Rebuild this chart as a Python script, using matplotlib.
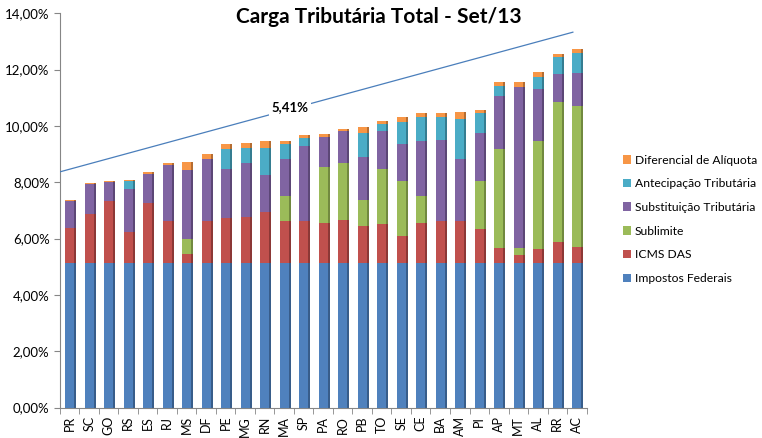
import numpy as np
import matplotlib.pyplot as plt
from matplotlib.ticker import FuncFormatter, FixedLocator

plt.rcParams['font.family'] = ['Lato', 'DejaVu Sans']

# dados (% da receita)
estados = ['PR', 'SC', 'GO', 'RS', 'ES', 'RJ', 'MS', 'DF', 'PE', 'MG', 'RN', 'MA', 'SP', 'PA',
           'RO', 'PB', 'TO', 'SE', 'CE', 'BA', 'AM', 'PI', 'AP', 'MT', 'AL', 'RR', 'AC']

impostos_federais = [5.15] * 27
icms_das = [1.22, 1.73, 2.20, 1.08, 2.11, 1.49, 0.31, 1.49, 1.57, 1.63, 1.78, 1.46, 1.49, 1.42,
            1.52, 1.28, 1.37, 0.95, 1.40, 1.49, 1.46, 1.20, 0.51, 0.28, 0.47, 0.73, 0.55]
sublimite = [0, 0, 0, 0, 0, 0, 0.54, 0, 0, 0, 0, 0.89, 0, 1.97,
             2.01, 0.95, 1.96, 1.94, 0.97, 0, 0, 1.71, 3.52, 0.23, 3.86, 4.96, 5.02]
substituicao = [0.95, 1.06, 0.65, 1.53, 1.04, 1.98, 2.44, 2.18, 1.74, 1.90, 1.33, 1.33, 2.63, 1.08,
                1.13, 1.51, 1.34, 1.33, 1.95, 2.86, 2.21, 1.68, 1.88, 5.74, 1.82, 1.00, 1.16]
antecipacao = [0, 0, 0, 0.27, 0, 0, 0, 0, 0.72, 0.53, 0.95, 0.53, 0.29, 0,
               0, 0.85, 0.26, 0.76, 0.84, 0.81, 1.42, 0.71, 0.36, 0, 0.45, 0.61, 0.72]
diferencial = [0.06, 0.05, 0.05, 0.05, 0.07, 0.06, 0.28, 0.20, 0.17, 0.17, 0.24, 0.12, 0.12, 0.08,
               0.09, 0.21, 0.10, 0.20, 0.14, 0.16, 0.24, 0.10, 0.13, 0.17, 0.15, 0.10, 0.15]

series = [
    ('Impostos Federais', impostos_federais, '#4F81BD', '#385D8A'),
    ('ICMS DAS', icms_das, '#C0504D', '#8C3836'),
    ('Sublimite', sublimite, '#9BBB59', '#71893F'),
    ('Substituição Tributária', substituicao, '#8064A2', '#5C4776'),
    ('Antecipação Tributária', antecipacao, '#4BACC6', '#357D91'),
    ('Diferencial de Alíquota', diferencial, '#F79646', '#B66D31'),
]

# linha de tendência
trend_x = [-0.5, 25.8]
trend_y = [8.37, 13.33]
trend_label = '5,41%'

fig = plt.figure(figsize=(7.62, 4.38), dpi=100)
ax = fig.add_axes([0.0787, 0.0696, 0.6910, 0.9000])

x = np.arange(len(estados))
w = 0.45
bottom = np.zeros(len(estados))
handles = []
for nome, vals, cor, sombra in series:
    vals = np.array(vals)
    ax.bar(x + 0.12, vals, w, bottom=bottom, color=sombra, linewidth=0, zorder=2)
    b = ax.bar(x, vals, w, bottom=bottom, color=cor, linewidth=0, zorder=3, label=nome)
    handles.append(b)
    bottom += vals

ax.plot(trend_x, trend_y, color='#4A7EBB', lw=0.9, zorder=4)
ax.text(11.3, 10.66, trend_label, ha='center', va='center', fontsize=9.5, fontweight='bold',
        bbox=dict(facecolor='white', edgecolor='none', pad=2), zorder=5)

ax.set_xlim(-0.5, len(estados) - 0.5)
ax.set_ylim(0, 14)
ax.set_yticks(np.arange(0, 15, 2))
ax.yaxis.set_major_formatter(FuncFormatter(lambda v, p: f'{v:.2f}%'.replace('.', ',')))
ax.set_xticks(x)
ax.set_xticklabels(estados, rotation=90, fontsize=9)
ax.xaxis.set_minor_locator(FixedLocator(np.arange(-0.5, len(estados), 1)))
ax.tick_params(axis='x', which='major', length=0, pad=6)
ax.tick_params(axis='x', which='minor', length=4, color='#868686')
ax.tick_params(axis='y', length=4, color='#868686', labelsize=9.5)

for s in ['top', 'right']:
    ax.spines[s].set_visible(False)
ax.spines['left'].set_color('#868686')
ax.spines['bottom'].set_color('#868686')

fig.text(0.497, 0.962, 'Carga Tributária Total - Set/13', ha='center', va='center',
         fontsize=15, fontweight='bold')

fig.legend(handles[::-1], [s[0] for s in series][::-1], loc='upper left',
           bbox_to_anchor=(0.803, 0.672), frameon=False, fontsize=8.7,
           handlelength=0.7, handleheight=0.7, handletextpad=0.3, labelspacing=1.05)

fig.savefig('out.png', dpi=100)
